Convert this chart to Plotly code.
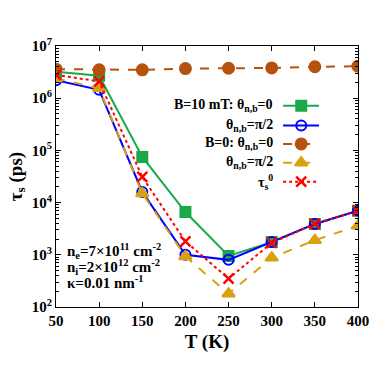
import plotly.graph_objects as go

T = [50, 100, 150, 200, 250, 300, 350, 400]
b10_par = [3.2e6, 2.7e6, 7.5e4, 6.6e3, 950, 1.75e3, 3.9e3, 7.0e3]
b10_perp = [2.2e6, 1.45e6, 1.6e4, 1.0e3, 800, 1.75e3, 3.9e3, 7.0e3]
b0_par = [3.6e6, 3.5e6, 3.5e6, 3.7e6, 3.75e6, 3.8e6, 4.0e6, 4.1e6]
b0_perp = [2.4e6, 1.55e6, 1.5e4, 930, 180, 880, 1.9e3, 3.6e3]
tau0 = [2.8e6, 2.1e6, 3.1e4, 1.8e3, 350, 1.7e3, 3.9e3, 7.0e3]

xticks = [50, 100, 150, 200, 250, 300, 350, 400]
yticks = [1e2, 1e3, 1e4, 1e5, 1e6, 1e7]
yticktext = ["<b>10<sup>%d</sup></b>" % e for e in range(2, 8)]

FONT = "Liberation Serif"
GREEN = "#1aa94a"
BLUE = "#0000ff"
BROWN = "#b5520f"
GOLD = "#d9a011"
RED = "#ff0000"

series = [
    ("B=10 mT: θ<sub>n,b</sub>=0", b10_par, GREEN, "solid", "square", 10),
    ("θ<sub>n,b</sub>=π/2", b10_perp, BLUE, "solid", "circle-open", 10),
    ("B=0: θ<sub>n,b</sub>=0", b0_par, BROWN, "dash", "circle", 11),
    ("θ<sub>n,b</sub>=π/2", b0_perp, GOLD, "dash", "triangle-up", 11),
    ("τ<sub>s</sub><sup>0</sup>", tau0, RED, "dot", "x-thin-open", 10),
]

fig = go.Figure()
for name, ys, col, dash, sym, sz in series:
    fig.add_trace(go.Scatter(
        x=T, y=ys, mode="lines+markers",
        line=dict(color=col, width=2, dash=dash),
        marker=dict(symbol=sym, size=sz, color=col,
                    line=dict(color=col, width=2.5 if "x" in sym else 2)),
        showlegend=False, xaxis="x", yaxis="y"))

# legend samples on an overlay axis
leg_y = [0.771, 0.695, 0.625, 0.553, 0.480]
for (name, ys, col, dash, sym, sz), yy in zip(series, leg_y):
    fig.add_trace(go.Scatter(
        x=[0.752, 0.871], y=[yy, yy], mode="lines",
        line=dict(color=col, width=2, dash=dash),
        showlegend=False, xaxis="x2", yaxis="y2", hoverinfo="skip"))
    fig.add_trace(go.Scatter(
        x=[0.812], y=[yy], mode="markers",
        marker=dict(symbol=sym, size=sz, color=col,
                    line=dict(color=col, width=2.5 if "x" in sym else 2)),
        showlegend=False, xaxis="x2", yaxis="y2", hoverinfo="skip"))
    fig.add_annotation(x=0.726, y=yy, xref="x2", yref="y2", text="<b>%s</b>" % name,
                       showarrow=False, xanchor="right", yanchor="middle",
                       font=dict(size=14, color="black", family=FONT))

info = ["n<sub>e</sub>=7×10<sup>11</sup> cm<sup>-2</sup>",
        "n<sub>i</sub>=2×10<sup>12</sup> cm<sup>-2</sup>",
        "κ=0.01 nm<sup>-1</sup>"]
for txt, yy in zip(info, [0.215, 0.152, 0.096]):
    fig.add_annotation(x=0.03, y=yy, xref="x2", yref="y2", text="<b>%s</b>" % txt,
                       showarrow=False, xanchor="left", yanchor="middle",
                       font=dict(size=15, color="black", family=FONT))

axis_common = dict(showline=True, linecolor="black", linewidth=1.2, mirror="ticks",
                   ticks="inside", ticklen=5, tickcolor="black", showgrid=False,
                   zeroline=False, automargin=False)

fig.update_layout(
    width=382, height=367,
    margin=dict(l=55.5, r=24, t=46, b=60),
    paper_bgcolor="white", plot_bgcolor="white",
    font=dict(family=FONT, size=15, color="black"),
    xaxis=dict(range=[50, 400], tickvals=xticks,
               ticktext=["<b>%d</b>" % v for v in xticks],
               title=dict(text="<b>T (K)</b>", font=dict(size=19, family=FONT), standoff=6),
               tickfont=dict(size=15, family=FONT), **axis_common),
    yaxis=dict(type="log", range=[2, 7], tickvals=yticks, ticktext=yticktext,
               title=dict(text="<b>τ<sub>s</sub> (ps)</b>", font=dict(size=19, family=FONT), standoff=4),
               tickfont=dict(size=15, family=FONT),
               minor=dict(ticks="inside", ticklen=3, tickcolor="black", dtick="D1"),
               **axis_common),
    xaxis2=dict(range=[0, 1], overlaying="x", visible=False, anchor="y2"),
    yaxis2=dict(range=[0, 1], overlaying="y", visible=False, anchor="x2"),
)

fig.write_html("out.html", config={"displayModeBar": False},
               post_script="document.body.style.margin='0px';")
